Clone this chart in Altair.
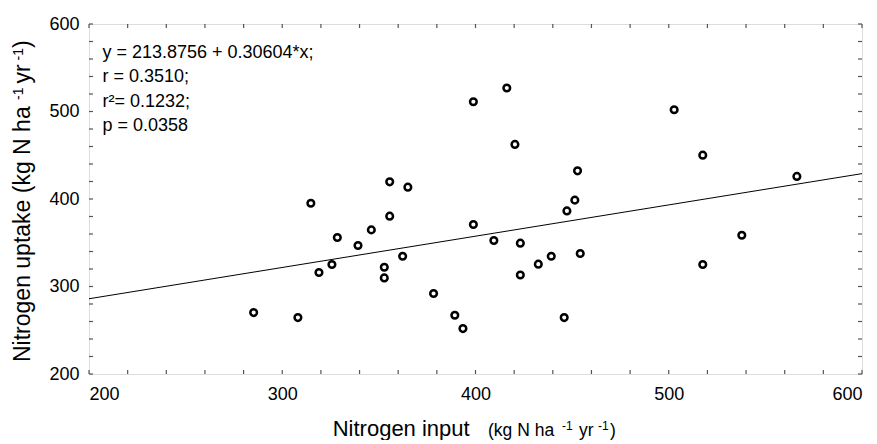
import altair as alt
import pandas as pd

# ---- data ----
n_input = [285.2, 308.1, 314.8, 319.0, 325.7, 328.5, 339.2, 346.1, 352.8, 352.8,
           355.6, 355.6, 362.3, 365.0, 378.3, 389.3, 393.5, 398.9, 398.9, 409.5,
           416.2, 420.4, 423.2, 423.2, 432.5, 439.2, 445.9, 447.3, 451.4, 452.8,
           454.2, 502.8, 517.6, 517.6, 537.8, 566.3]
n_uptake = [270.2, 264.5, 395.2, 316.0, 325.1, 356.0, 346.9, 364.7, 322.0, 309.8,
            419.6, 380.4, 334.6, 413.5, 292.0, 267.1, 251.9, 511.1, 370.9, 352.6,
            526.8, 462.4, 349.5, 313.2, 325.5, 334.6, 264.5, 386.4, 398.7, 432.2,
            337.7, 502.0, 450.1, 325.1, 358.6, 425.8]
fit_x = [200, 600]
fit_y = [286.0, 429.0]
major_ticks = [200, 300, 400, 500, 600]
minor_ticks = [200, 220, 240, 260, 280, 300, 320, 340, 360, 380, 400, 420, 440,
               460, 480, 500, 520, 540, 560, 580, 600]
stats_lines = ["y = 213.8756 + 0.30604*x;", "r = 0.3510;", "r\u00b2= 0.1232;", "p = 0.0358"]

W, H = 773, 350
FONT = "Liberation Sans"
FRAME = "#555555"

pts = pd.DataFrame({"x": n_input, "y": n_uptake})
fit = pd.DataFrame({"x": fit_x, "y": fit_y})
ticks = pd.DataFrame({"v": minor_ticks})

xs = alt.Scale(domain=[200, 600], nice=False, zero=False)
ys = alt.Scale(domain=[200, 600], nice=False, zero=False)
xaxis = alt.Axis(values=major_ticks, ticks=False, tickSize=0, domain=False, grid=False,
                 labelFontSize=18, labelFont=FONT, labelColor="black", labelPadding=11,
                 title=None, format="d")
yaxis = alt.Axis(values=major_ticks, ticks=False, tickSize=0, domain=False, grid=False,
                 labelFontSize=18, labelFont=FONT, labelColor="black", labelPadding=10,
                 title=None, format="d")

points = alt.Chart(pts).mark_point(shape="circle", filled=False, color="black",
                                   size=44, strokeWidth=2.5, opacity=1).encode(
    x=alt.X("x:Q", scale=xs, axis=xaxis),
    y=alt.Y("y:Q", scale=ys, axis=yaxis),
)
line = alt.Chart(fit).mark_line(color="black", strokeWidth=1).encode(
    x=alt.X("x:Q", scale=xs, axis=xaxis),
    y=alt.Y("y:Q", scale=ys, axis=yaxis),
)

def xtick(y0, y1):
    return alt.Chart(ticks).mark_rule(color=FRAME, strokeWidth=1.2).encode(
        x=alt.X("v:Q", scale=xs, axis=xaxis), y=alt.value(y0), y2=alt.value(y1))

def ytick(x0, x1):
    return alt.Chart(ticks).mark_rule(color=FRAME, strokeWidth=1.2).encode(
        y=alt.Y("v:Q", scale=ys, axis=yaxis), x=alt.value(x0), x2=alt.value(x1))

def txt(s, x, y, size, angle=0, baseline="alphabetic"):
    return alt.Chart(pd.DataFrame({"t": [s]})).mark_text(
        font=FONT, fontSize=size, color="black", align="left", baseline=baseline,
        angle=angle).encode(text="t:N", x=alt.value(x), y=alt.value(y))

layers = [line, points,
          xtick(H, H - 4), xtick(0, 4), ytick(0, 4), ytick(W, W - 4)]

# regression statistics text
for i, s in enumerate(stats_lines):
    layers.append(txt(s, 13.4, 28.5 + i * 24.5, 18, baseline="middle"))

# x axis title
layers += [
    txt("Nitrogen input", 243.7, 411.7, 22),
    txt("(kg N ha", 399, 411.7, 17.5),
    txt("-1", 473, 405.5, 12),
    txt("yr", 490, 411.7, 17.5),
    txt("-1", 509, 405.5, 12),
    txt(")", 521, 411.7, 17.5),
]
# y axis title (rotated)
bx = -59.3
layers += [
    txt("Nitrogen uptake (kg N ha", bx, 338, 23, angle=270),
    txt("-1", bx - 7, 75.9, 14, angle=270),
    txt("yr", bx, 59.6, 23, angle=270),
    txt("-1", bx - 7, 36.5, 14, angle=270),
    txt(")", bx, 24.1, 23, angle=270),
]

chart = alt.layer(*layers).properties(
    width=W, height=H,
    autosize=alt.AutoSizeParams(type="none"),
    padding={"left": 81, "top": 16, "right": 5, "bottom": 66},
).configure_view(stroke=FRAME, strokeWidth=1.5).configure(background="white")

chart.save("out.html", embed_options={"renderer": "svg", "actions": False})
